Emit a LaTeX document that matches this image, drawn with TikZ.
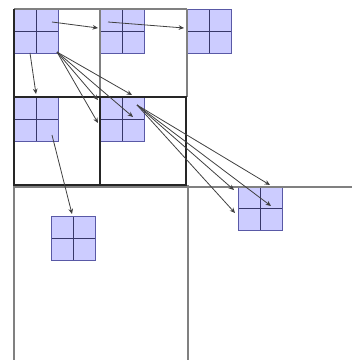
\documentclass[tikz,border=0pt]{standalone}
\usetikzlibrary{arrows.meta,calc}

\definecolor{cellfill}{RGB}{204,204,255}
\definecolor{cellline}{RGB}{55,55,105}

\begin{document}
\begin{tikzpicture}[x=0.75pt, y=-0.75pt,
  cell/.style={draw=gray!70!blue, fill=cellfill, line width=0.8pt,
    minimum size=33pt, inner sep=0pt, anchor=north west,
    path picture={\draw[cellline, line width=1pt]
      (path picture bounding box.north) -- (path picture bounding box.south)
      (path picture bounding box.west) -- (path picture bounding box.east);}},
  link/.style={draw=black!75, line width=0.6pt, -{Stealth[length=4pt, width=3.5pt]}},
  thinframe/.style={draw=black!50, line width=0.8pt},
  thickframe/.style={draw=black!85, line width=1.4pt}]

  \useasboundingbox (0,0) rectangle (352,360);

  % cells
  \node[cell] (c1) at (14,9) {};
  \node[cell] (c2) at (100,9) {};
  \node[cell] (c3) at (187,9) {};
  \node[cell] (c4) at (14,97) {};
  \node[cell] (c5) at (100,97) {};
  \node[cell] (c6) at (51,216) {};
  \node[cell] (c7) at (238,186) {};

  % thin frame
  \draw[thinframe] (14,9) -- (187,9);
  \draw[thinframe] (100,9) -- (100,97);
  \draw[thinframe] (187,9) -- (187,97);
  \draw[thinframe] (188,185) -- (188,360);
  \draw[thinframe] (14,185) -- (14,360);
  \draw[thinframe] (14,187) -- (352,187);

  % thick frame
  \draw[thickframe] (14,9) -- (14,185) -- (100,185);
  \draw[thickframe] (14,97) -- (187,97);
  \draw[thickframe] (100,97) rectangle (186,185);

  % neighbours
  \draw[link] ($(c1.north west)+(38,13)$) -- ($(c2.north west)+(-2,19)$);
  \draw[link] ($(c2.north west)+(8,13)$) -- ($(c3.north west)+(-3,19)$);
  \draw[link] ($(c1.north west)+(16,44)$) -- ($(c4.north west)+(22,-3)$);
  \draw[link] ($(c4.north west)+(38,38)$) -- ($(c6.north west)+(21,-2)$);

  % fan c1 -> c5
  \foreach \dx/\dy in {-2/3, 32/-2, -2/26, 33/20}
    \draw[link] ($(c1.north west)+(43,43)$) -- ($(c5.north west)+(\dx,\dy)$);

  % fan c5 -> c7
  \foreach \dx/\dy in {-4/4, 32/-1, -3/27, 33/20}
    \draw[link] ($(c5.north west)+(37,8)$) -- ($(c7.north west)+(\dx,\dy)$);

\end{tikzpicture}
\end{document}
